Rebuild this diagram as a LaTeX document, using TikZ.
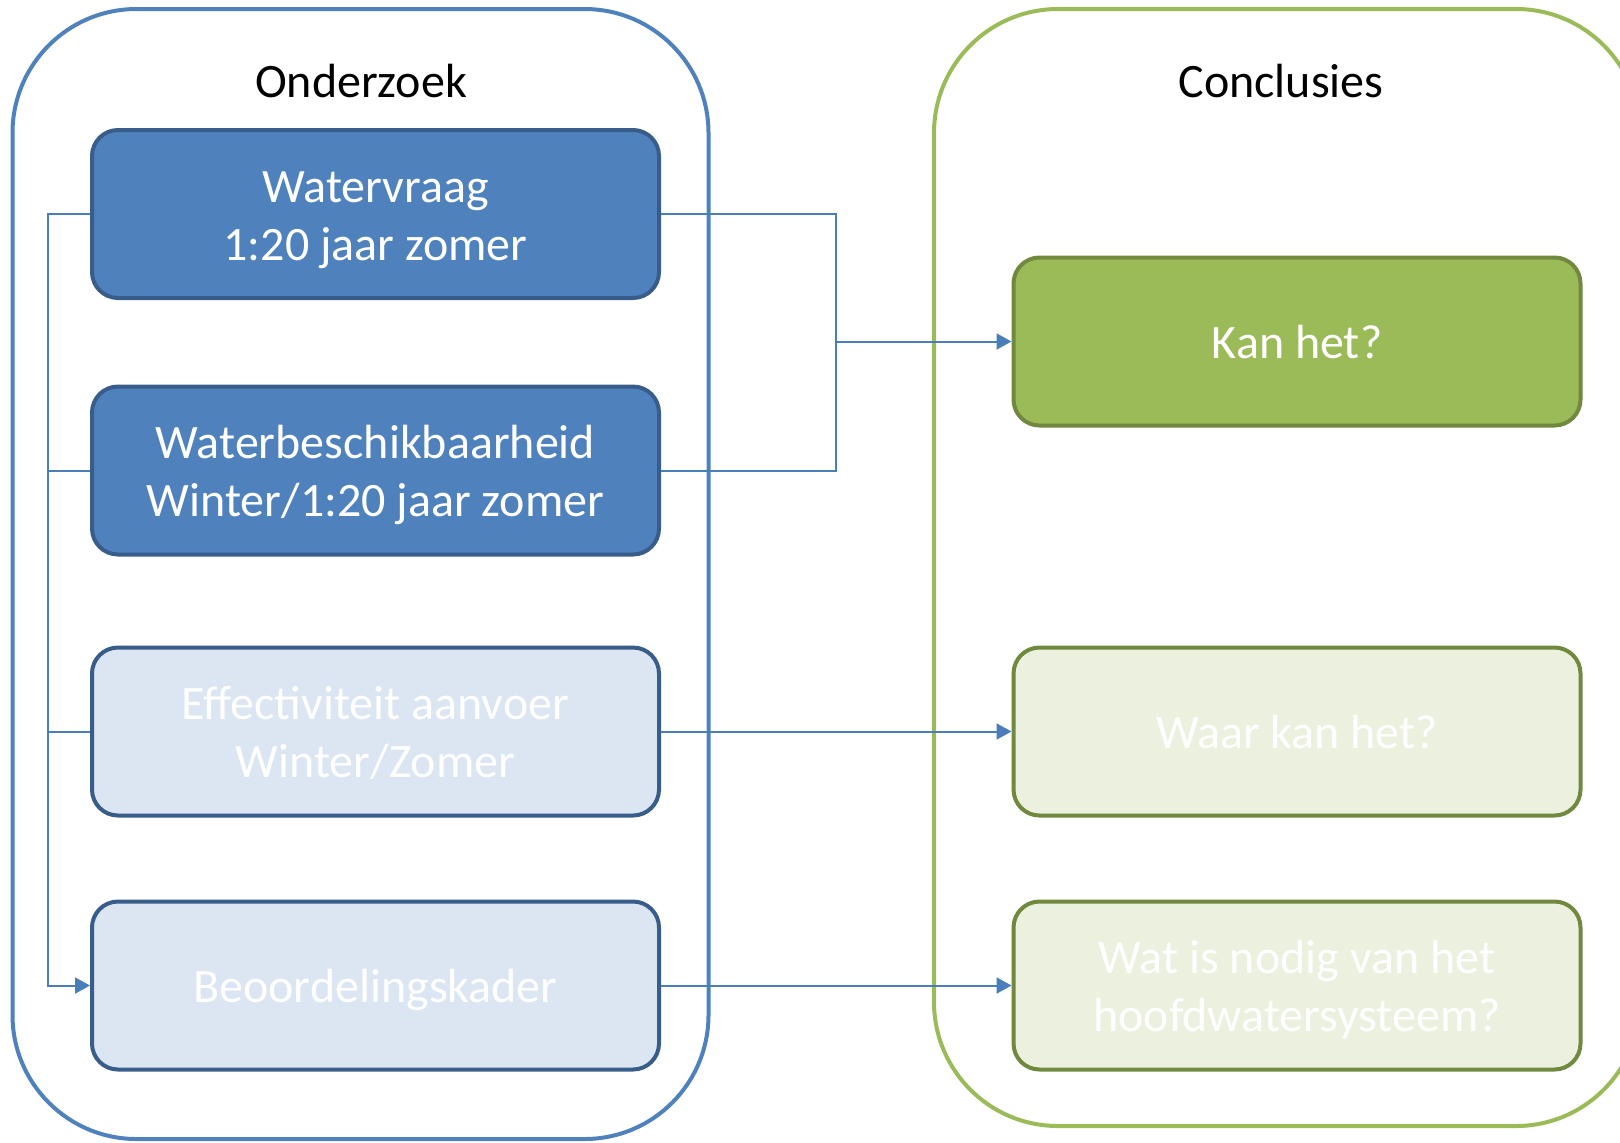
\documentclass[tikz,border=0pt]{standalone}
\usepackage{fontspec}
\setmainfont{Carlito}
\usetikzlibrary{arrows.meta}
\definecolor{pblue}{HTML}{4F81BD}
\definecolor{bblue}{HTML}{385D8A}
\definecolor{lblue}{HTML}{DCE6F2}
\definecolor{pgreen}{HTML}{9BBB59}
\definecolor{bgreen}{HTML}{71893F}
\definecolor{lgreen}{HTML}{EBF1DE}
\definecolor{conncol}{HTML}{4A7EBB}
\newcommand\topstrut{\rule{0pt}{21.6pt}}
\newcommand\botstrut{\rule[-4.6pt]{0pt}{4.6pt}}
\tikzset{
  panel/.style={line width=2pt, rounded corners=62pt},
  box/.style={line width=2pt, rounded corners=13pt, minimum width=283.5pt, minimum height=84pt,
    align=center, text=white, font=\fontsize{24pt}{29pt}\selectfont, inner sep=0pt},
  darkblue/.style={box, draw=bblue, fill=pblue},
  lightblue/.style={box, draw=bblue, fill=lblue},
  darkgreen/.style={box, draw=bgreen, fill=pgreen},
  lightgreen/.style={box, draw=bgreen, fill=lgreen},
  title/.style={font=\fontsize{24pt}{29pt}\selectfont, anchor=base},
  conn/.style={draw=conncol, line width=1pt},
  arr/.style={conn, -{Triangle[length=7.5pt,width=8pt]}}
}
\begin{document}
\begin{tikzpicture}[x=0.5pt,y=-0.5pt]
\useasboundingbox (0,0) rectangle (1620,1142);
\draw[panel, draw=pblue] (12.5,9) rectangle (708.5,1139);
\draw[panel, draw=pgreen] (934,9) rectangle (1640,1126);
\node[title] (t1) at (361,97) {Onderzoek};
\node[title] (t2) at (1281,97) {Conclusies};
\node[darkblue] (b1) at (375.5,214) {\topstrut Watervraag\\1:20 jaar zomer\botstrut};
\node[darkblue] (b2) at (375.5,470.5) {\topstrut Waterbeschikbaarheid\\Winter/1:20 jaar zomer\botstrut};
\node[lightblue] (b3) at (375.5,731.5) {\topstrut Effectiviteit aanvoer\\Winter/Zomer\botstrut};
\node[lightblue] (b4) at (375.5,985.5) {\topstrut Beoordelingskader\botstrut};
\node[darkgreen] (g1) at (1297,341.5) {\topstrut Kan het?\botstrut};
\node[lightgreen] (g2) at (1297,731.5) {\topstrut Waar kan het?\botstrut};
\node[lightgreen] (g3) at (1297,985.5) {\topstrut Wat is nodig van het\\hoofdwatersysteem?\botstrut};
\coordinate (bt) at (47.5,214);
\coordinate (m2) at (836,470.5);
\draw[arr] (b1.west) -- (bt) |- (b4.west);
\draw[conn] (b2.west) -- (b2.west -| bt);
\draw[conn] (b3.west) -- (b3.west -| bt);
\draw[conn] (b1.east) -| (m2) -- (b2.east);
\draw[arr] (m2 |- g1.west) -- (g1.west);
\draw[arr] (b3.east) -- (g2.west);
\draw[arr] (b4.east) -- (g3.west);
\end{tikzpicture}
\end{document}
